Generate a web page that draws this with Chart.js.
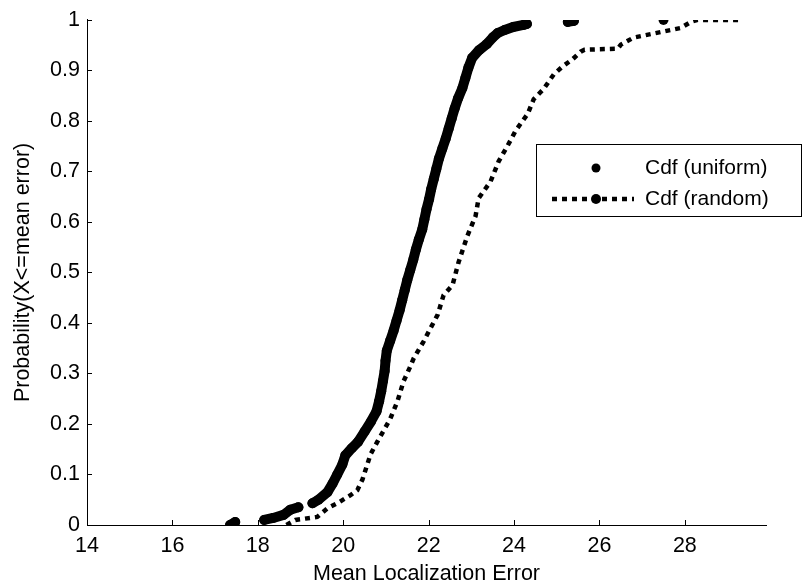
<!DOCTYPE html>
<html>
<head>
<meta charset="utf-8">
<title>Cdf of mean localization error</title>
<script src="https://cdn.jsdelivr.net/npm/chart.js@4.4.0/dist/chart.umd.min.js"></script>
<style>
  html, body { margin: 0; padding: 0; background: #fff; }
  #cdfChart { display: block; }
</style>
</head>
<body>
<canvas id="cdfChart" width="802" height="587"></canvas>
<script>
// empirical cdf, uniform deployment
const uniformX = [17.35, 17.47, 18.15, 18.36, 18.60, 18.76, 18.95, 19.28, 19.42, 19.63, 19.75, 19.86, 19.98, 20.05, 20.20, 20.35, 20.50,
    20.65, 20.78, 20.84, 20.89, 20.93, 20.97, 20.99, 21.02, 21.10, 21.18, 21.25, 21.32, 21.38, 21.44, 21.50, 21.57,
    21.64, 21.70, 21.77, 21.85, 21.90, 21.95, 22.01, 22.06, 22.12, 22.18, 22.24, 22.32, 22.40, 22.47, 22.54, 22.61,
    22.69, 22.79, 22.86, 22.93, 23.02, 23.18, 23.36, 23.50, 23.62, 23.78, 23.98, 24.22, 24.30, 25.26, 25.40, 27.50];
const uniformY = [0.000, 0.006, 0.010, 0.014, 0.020, 0.030, 0.035, 0.043, 0.050, 0.065, 0.082, 0.100, 0.120, 0.138, 0.152, 0.165, 0.185,
    0.205, 0.225, 0.245, 0.265, 0.285, 0.305, 0.325, 0.345, 0.365, 0.385, 0.405, 0.425, 0.445, 0.465, 0.485, 0.505,
    0.525, 0.545, 0.565, 0.585, 0.605, 0.625, 0.645, 0.665, 0.685, 0.705, 0.725, 0.745, 0.765, 0.785, 0.805, 0.825,
    0.845, 0.865, 0.885, 0.905, 0.925, 0.940, 0.952, 0.965, 0.974, 0.980, 0.986, 0.990, 0.992, 0.996, 0.998, 1.000];

// empirical cdf, random deployment
const randomX = [18.67, 18.88, 19.39, 19.63, 19.86, 20.17, 20.33, 20.45, 20.64, 20.80, 21.10, 21.27, 21.41, 21.55, 21.65,
    21.88, 22.04, 22.21, 22.35, 22.56, 22.70, 22.91, 23.10, 23.17, 23.45, 23.64, 23.85, 24.04, 24.32, 24.46, 24.69,
    24.93, 25.14, 25.37, 25.56, 25.65, 26.43, 26.50, 26.80, 27.50, 27.90, 28.14, 28.30, 29.36];
const randomY = [0.000, 0.010, 0.016, 0.033, 0.043, 0.059, 0.069, 0.090, 0.140, 0.165, 0.210, 0.245, 0.284, 0.310, 0.330,
    0.363, 0.389, 0.416, 0.455, 0.475, 0.520, 0.573, 0.612, 0.647, 0.680, 0.720, 0.751, 0.781, 0.814, 0.843, 0.863,
    0.892, 0.908, 0.922, 0.937, 0.941, 0.943, 0.951, 0.965, 0.977, 0.984, 0.996, 1.000, 1.000];

const seriesNames = ['Cdf (uniform)', 'Cdf (random)'];
const xTicks = [14, 16, 18, 20, 22, 24, 26, 28];
const yTicks = [0, 0.1, 0.2, 0.3, 0.4, 0.5, 0.6, 0.7, 0.8, 0.9, 1];

const FONT = "'Liberation Sans', Arial, Helvetica, sans-serif";
const FONT_SIZE = 21.5;
Chart.defaults.font.family = FONT;
Chart.defaults.color = '#000';

const toPoints = (xs, ys) => xs.map((x, i) => ({ x: x, y: ys[i] }));

// neighbouring markers that overlap get joined so the dense part reads as one thick band
const markerJoin = c => {
    const dx = c.p1.x - c.p0.x, dy = c.p1.y - c.p0.y;
    return Math.sqrt(dx * dx + dy * dy) > 13 ? 'rgba(0,0,0,0)' : '#000';
};

// small tick marks pointing into the plot, matlab style
const innerTicks = {
    id: 'innerTicks',
    beforeDatasetsDraw(chart) {
        const { ctx, chartArea, scales } = chart;
        ctx.save();
        ctx.strokeStyle = '#000';
        ctx.lineWidth = 1;
        ctx.beginPath();
        xTicks.forEach(v => {
            const px = Math.round(scales.x.getPixelForValue(v)) + 0.5;
            ctx.moveTo(px, chartArea.bottom);
            ctx.lineTo(px, chartArea.bottom - 5);
        });
        yTicks.forEach(v => {
            const py = Math.round(scales.y.getPixelForValue(v)) + 0.5;
            ctx.moveTo(chartArea.left, py);
            ctx.lineTo(chartArea.left + 5, py);
        });
        ctx.stroke();
        ctx.restore();
    }
};

// boxed legend: marker only for uniform, dotted line with marker for random
const boxLegend = {
    id: 'boxLegend',
    afterDraw(chart) {
        const { ctx } = chart;
        const left = 536, top = 144, right = 801, bottom = 216;
        ctx.save();
        ctx.fillStyle = '#fff';
        ctx.fillRect(left, top, right - left, bottom - top);
        ctx.strokeStyle = '#000';
        ctx.lineWidth = 1;
        ctx.strokeRect(left + 0.5, top + 0.5, right - left, bottom - top);

        const rows = [168, 199];
        const markX = 596;
        ctx.fillStyle = '#000';
        ctx.beginPath();
        ctx.arc(markX, rows[0], 4.5, 0, Math.PI * 2);
        ctx.fill();

        ctx.strokeStyle = '#000';
        ctx.lineWidth = 4.5;
        ctx.setLineDash([5, 5]);
        ctx.beginPath();
        ctx.moveTo(552, rows[1]);
        ctx.lineTo(634, rows[1]);
        ctx.stroke();
        ctx.setLineDash([]);
        ctx.beginPath();
        ctx.arc(markX, rows[1], 5, 0, Math.PI * 2);
        ctx.fill();

        ctx.font = '21px ' + FONT;
        ctx.textAlign = 'left';
        ctx.textBaseline = 'middle';
        ctx.fillText(seriesNames[0], 645, rows[0]);
        ctx.fillText(seriesNames[1], 645, rows[1]);
        ctx.restore();
    }
};

new Chart(document.getElementById('cdfChart'), {
    type: 'scatter',
    data: {
        datasets: [
            {
                label: seriesNames[0],
                data: toPoints(uniformX, uniformY),
                showLine: true,
                borderColor: '#000',
                borderWidth: 10,
                borderCapStyle: 'round',
                borderJoinStyle: 'round',
                segment: { borderColor: markerJoin },
                pointRadius: 5,
                pointBorderWidth: 0,
                pointBackgroundColor: '#000',
                tension: 0
            },
            {
                label: seriesNames[1],
                data: toPoints(randomX, randomY),
                showLine: true,
                borderColor: '#000',
                borderWidth: 4.5,
                borderDash: [5, 5],
                borderCapStyle: 'butt',
                pointRadius: 0,
                tension: 0
            }
        ]
    },
    options: {
        responsive: false,
        animation: false,
        layout: { padding: { top: 15, right: 36, left: 0, bottom: 0 } },
        plugins: {
            legend: { display: false },
            tooltip: { enabled: false }
        },
        scales: {
            x: {
                type: 'linear',
                min: 14,
                max: 29.9,
                afterBuildTicks: s => { s.ticks = xTicks.map(v => ({ value: v })); },
                afterFit: s => { s.height = 62; },
                ticks: { font: { size: FONT_SIZE }, padding: 8, maxRotation: 0 },
                grid: { display: false, drawTicks: false },
                border: { display: true, color: '#000', width: 1 },
                title: {
                    display: true,
                    text: 'Mean Localization Error',
                    font: { size: FONT_SIZE },
                    padding: { top: 0, bottom: 0 }
                }
            },
            y: {
                type: 'linear',
                min: 0,
                max: 1,
                afterBuildTicks: s => { s.ticks = yTicks.map(v => ({ value: v })); },
                afterFit: s => { s.width = 87; },
                ticks: { font: { size: FONT_SIZE }, padding: 7, callback: v => String(+v.toFixed(1)) },
                grid: { display: false, drawTicks: false },
                border: { display: true, color: '#000', width: 1 },
                title: {
                    display: true,
                    text: 'Probability(X<=mean error)',
                    font: { size: FONT_SIZE },
                    padding: { top: 10, bottom: 0 }
                }
            }
        }
    },
    plugins: [innerTicks, boxLegend]
});
</script>
</body>
</html>
